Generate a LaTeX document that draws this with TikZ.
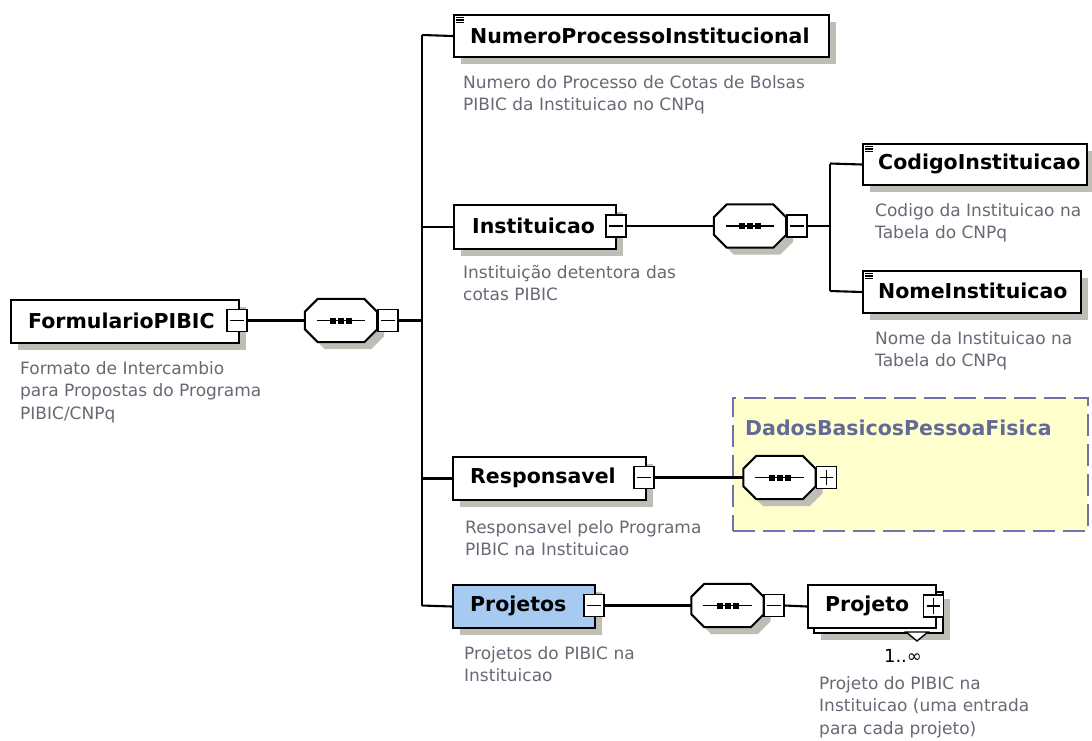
\documentclass[tikz,border=0pt]{standalone}
\usepackage{fontspec}
\setmainfont{DejaVu Sans}
\usetikzlibrary{shadows}
\definecolor{shadowc}{RGB}{190,190,182}
\definecolor{desc}{RGB}{105,105,118}
\definecolor{projblue}{RGB}{166,202,240}
\definecolor{dashc}{RGB}{110,116,168}
\definecolor{yfill}{RGB}{255,255,206}
\definecolor{dadosc}{RGB}{98,106,150}
\tikzset{
 conn/.style={line width=2.1pt},
 ebox/.style={draw, line width=2pt, fill=white, rectangle, inner sep=0pt, anchor=north west,
   drop shadow={shadow xshift=7pt, shadow yshift=-7pt, fill=shadowc, opacity=1}},
 title/.style={font=\bfseries\fontsize{20.5}{24}\selectfont, anchor=west, inner sep=0pt},
 dtext/.style={font=\fontsize{17}{22.5}\selectfont, text=desc, align=left, anchor=north west, inner sep=0pt},
 mbox/.style={draw, line width=1.6pt, fill=white, minimum width=20pt, minimum height=22pt, inner sep=0pt},
 seqbox/.style={minimum width=72pt, minimum height=43pt, inner sep=0pt},
 octo/.style={draw, line width=2pt, fill=white},
 markline/.style={line width=1.6pt},
}
\newcommand\octshape[4]{%
\path[#2] ([xshift=13pt+#3,yshift=#4]#1.north west) -- ([xshift=-13pt+#3,yshift=#4]#1.north east)
 -- ([xshift=#3,yshift=-13pt+#4]#1.north east) -- ([xshift=#3,yshift=13pt+#4]#1.south east)
 -- ([xshift=-13pt+#3,yshift=#4]#1.south east) -- ([xshift=13pt+#3,yshift=#4]#1.south west)
 -- ([xshift=#3,yshift=13pt+#4]#1.south west) -- ([xshift=#3,yshift=-13pt+#4]#1.north west) -- cycle;}
\newcommand\seqdraw[1]{%
 \octshape{#1}{fill=shadowc}{7pt}{-7pt}%
 \octshape{#1}{octo}{0pt}{0pt}%
 \draw[line width=1.8pt] ([xshift=12pt]#1.west) -- ([xshift=-12pt]#1.east);
 \foreach \d in {-8,0,8} \fill ([xshift=\d pt-3pt,yshift=-3pt]#1.center) rectangle ([xshift=\d pt+3pt,yshift=3pt]#1.center);}
\newcommand\minusmark[1]{\draw[markline] ([xshift=4pt]#1.west) -- ([xshift=-4pt]#1.east);}
\newcommand\plusmark[1]{\minusmark{#1}\draw[markline] ([yshift=4pt]#1.south) -- ([yshift=-4pt]#1.north);}
\newcommand\elicon[1]{\foreach \k in {3.5,6,8.5} \draw[line width=1.1pt] ([xshift=3pt,yshift=-\k pt]#1.north west) -- ++(8pt,0pt);}
\begin{document}
\begin{tikzpicture}[x=1pt,y=-1pt]
\useasboundingbox (0,0) rectangle (1092,740);
\fill[white] (0,0) rectangle (1092,740);

% dashed group
\node[draw=dashc, fill=yfill, dash pattern=on 22pt off 8pt, line width=1.5pt, minimum width=355pt, minimum height=133pt, inner sep=0pt, anchor=north west] (dados) at (732,397) {};
\node[title, text=dadosc] (dadost) at (745,428) {DadosBasicosPessoaFisica};

% root
\node[ebox, minimum width=228pt, minimum height=43pt] (fp) at (10,299) {};
\node[title] (fpt) at (28,320.5) {FormularioPIBIC};
\node[mbox] (fpm) at (237,320.5) {}; \minusmark{fpm}
\node[dtext] (fpd) at (20,361) {Formato de Intercambio\\para Propostas do Programa\\PIBIC/CNPq};

\node[seqbox] (s1) at (341,320.5) {}; \seqdraw{s1}
\node[mbox] (s1m) at (388,320.5) {}; \minusmark{s1m}
\coordinate (bt) at (422,35);
\coordinate (bb) at (422,605.5);

% NumeroProcessoInstitucional
\node[ebox, minimum width=375pt, minimum height=42pt] (npi) at (453,14) {};
\elicon{npi}
\node[title] (npit) at (470,36) {NumeroProcessoInstitucional};
\node[dtext] (npid) at (463,75) {Numero do Processo de Cotas de Bolsas\\PIBIC da Instituicao no CNPq};

% Instituicao
\node[ebox, minimum width=162pt, minimum height=44pt] (inst) at (453,204) {};
\node[title] (instt) at (472,226) {Instituicao};
\node[mbox] (instm) at (616,226) {}; \minusmark{instm}
\node[dtext] (instd) at (463,265) {Instituição detentora das\\cotas PIBIC};
\node[seqbox] (s2) at (750,226) {}; \seqdraw{s2}
\node[mbox] (s2m) at (797,226) {}; \minusmark{s2m}
\coordinate (b2t) at (830,163.5);
\coordinate (b2b) at (830,291);

\node[ebox, minimum width=224pt, minimum height=41pt] (cod) at (862,143) {};
\elicon{cod}
\node[title] (codt) at (878,164) {CodigoInstituicao};
\node[dtext] (codd) at (875,203) {Codigo da Instituicao na\\Tabela do CNPq};

\node[ebox, minimum width=218pt, minimum height=42pt] (nom) at (862,270) {};
\elicon{nom}
\node[title] (nomt) at (878,291) {NomeInstituicao};
\node[dtext] (nomd) at (875,331) {Nome da Instituicao na\\Tabela do CNPq};

% Responsavel
\node[ebox, minimum width=193pt, minimum height=43pt] (resp) at (452,456) {};
\node[title] (respt) at (470,477.5) {Responsavel};
\node[mbox] (respm) at (644,477.5) {}; \minusmark{respm}
\node[dtext] (respd) at (465,520) {Responsavel pelo Programa\\PIBIC na Instituicao};
\node[seqbox] (s3) at (779.5,477.5) {}; \seqdraw{s3}
\node[mbox] (s3m) at (826.5,477.5) {}; \plusmark{s3m}

% Projetos
\node[ebox, fill=projblue, minimum width=142pt, minimum height=43pt] (proj) at (452,584) {};
\node[title] (projt) at (470,605.5) {Projetos};
\node[mbox] (projm) at (594,605.5) {}; \minusmark{projm}
\node[dtext] (projd) at (464,646) {Projetos do PIBIC na\\Instituicao};
\node[seqbox] (s4) at (727.5,605.5) {}; \seqdraw{s4}
\node[mbox] (s4m) at (774,605.5) {}; \minusmark{s4m}

\node[ebox, minimum width=129pt, minimum height=41pt] (pjb) at (813,591) {};
\node[draw, line width=2pt, fill=white, inner sep=0pt, anchor=north west, minimum width=128pt, minimum height=43pt] (pjt) at (807,584) {};
\node[title] (pjtt) at (825,605.5) {Projeto};
\node[mbox] (pjm) at (933.5,606) {}; \plusmark{pjm}
\draw[line width=1.4pt, fill=white] (906,632) -- (928,632) -- (917,641) -- cycle;
\node[font=\fontsize{18}{22}\selectfont, inner sep=0pt] (mult) at (903,656) {1..∞};
\node[dtext] (pjd) at (819,676) {Projeto do PIBIC na\\Instituicao (uma entrada\\para cada projeto)};

% connectors
\draw[conn] (fpm.east) -- (s1.west);
\draw[conn] (s1m.east) -- (s1m.east -| bt);
\draw[conn] (bt) -- (bb);
\draw[conn] (bt) -- (npi.west);
\draw[conn] (inst.west -| bt) -- (inst.west);
\draw[conn] (resp.west -| bt) -- (resp.west);
\draw[conn] (bb) -- (proj.west);
\draw[conn] (instm.east) -- (s2.west);
\draw[conn] (s2m.east) -- (s2m.east -| b2t);
\draw[conn] (b2t) -- (b2b);
\draw[conn] (b2t) -- (cod.west);
\draw[conn] (b2b) -- (nom.west);
\draw[conn] (respm.east) -- (s3.west);
\draw[conn] (projm.east) -- (s4.west);
\draw[conn] (s4m.east) -- (pjt.west);
\end{tikzpicture}
\end{document}
